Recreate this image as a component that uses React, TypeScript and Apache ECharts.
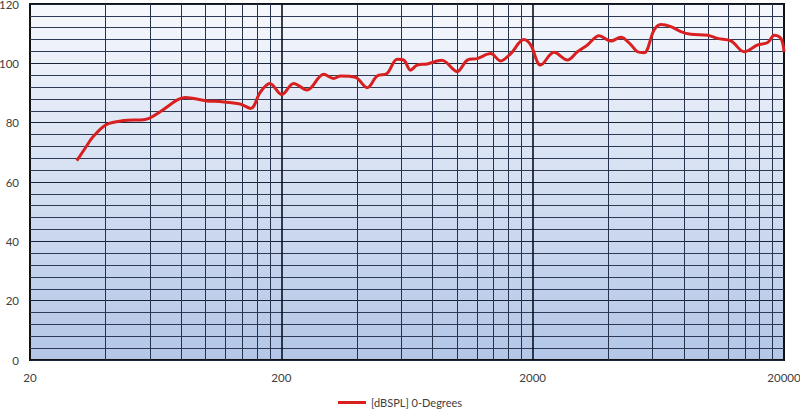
import React, { useEffect, useRef } from "react";
import * as echarts from "echarts";

// Frequency (Hz) and SPL (dB)
const freqs = [
  30.7, 33.1, 35.7, 40.4, 47.1, 57.4, 65.9, 76.8, 82.9, 101, 114, 137, 151, 165, 180,
  201, 224, 253, 295, 323, 344, 394, 439, 481, 527, 578, 614, 653, 694, 761, 870,
  1002, 1099, 1204, 1361, 1491, 1635, 1847, 1964, 2152, 2432, 2750, 3014, 3304,
  3674, 4090, 4484, 4915, 5226, 5550, 6084, 6471, 7093, 7774, 8521, 9932, 10888,
  12300, 13900, 15710, 17220, 18300, 19456, 20000,
];
const spl = [
  67.2, 71.3, 75.3, 79.4, 80.7, 81.1, 83.7, 87.6, 88.5, 87.3, 87.1, 86.3, 84.8, 90.3, 93.2,
  89.5, 93.2, 91.0, 96.3, 94.9, 95.7, 95.3, 91.8, 95.7, 96.6, 101.4, 101.1, 97.7, 99.4, 99.8, 101.0,
  97.2, 101.1, 101.6, 103.3, 100.8, 103.3, 108.0, 106.2, 99.4, 103.7, 101.1, 103.9, 106.2,
  109.3, 107.5, 108.8, 106.3, 103.9, 103.6, 111.2, 113.1, 112.4, 110.7, 109.8, 109.5, 108.4,
  107.6, 103.9, 106.2, 107.0, 109.5, 108.4, 103.9,
];
const seriesName = "[dBSPL] 0-Degrees";
const xTickLabels = [20, 200, 2000, 20000];
const decadeStarts = [20, 200, 2000];
const gridMultipliers = [2, 3, 4, 5, 6, 7, 8, 9];
const decadeLines = [200, 2000];

export default function App() {
  const ref = useRef<HTMLDivElement>(null);

  useEffect(() => {
    if (!ref.current) return;
    const chart = echarts.init(ref.current, undefined, { renderer: "svg" });

    const minorVals: number[] = [];
    decadeStarts.forEach((d) => {
      gridMultipliers.forEach((m) => minorVals.push(d * m));
    });

    const textStyle = { fontFamily: "Lato", fontSize: 11.5, color: "#404040" };

    chart.setOption({
      animation: false,
      backgroundColor: "#ffffff",
      grid: {
        left: 30,
        right: 16,
        top: 4,
        bottom: 51,
        containLabel: false,
        outerBoundsMode: "none",
        show: true,
        borderColor: "#111",
        borderWidth: 2,
        backgroundColor: new echarts.graphic.LinearGradient(0, 0, 0, 1, [
          { offset: 0, color: "#f6f8fc" },
          { offset: 1, color: "#b3c6e7" },
        ]),
      },
      legend: {
        data: [seriesName],
        top: 392,
        left: "center",
        icon: "rect",
        itemWidth: 28,
        itemHeight: 3,
        itemGap: 10,
        textStyle: { fontFamily: "Lato", fontSize: 11, color: "#404040" },
      },
      xAxis: {
        type: "log",
        logBase: 10,
        min: 20,
        max: 20000,
        axisLine: { show: false },
        axisTick: { show: false },
        splitLine: { show: false },
        axisLabel: {
          ...textStyle,
          margin: 11,
          customValues: xTickLabels,
          formatter: (v: number) => String(Math.round(v)),
        },
      },
      yAxis: {
        type: "value",
        min: 0,
        max: 120,
        interval: 20,
        axisLine: { show: false },
        axisTick: { show: false },
        axisLabel: { ...textStyle, margin: 11 },
        splitLine: { show: true, lineStyle: { color: "#1a2438", width: 1 } },
        minorTick: { show: false, splitNumber: 5 },
        minorSplitLine: { show: true, lineStyle: { color: "#2e3a55", width: 1 } },
      },
      series: [
        {
          name: "gridlines",
          type: "line",
          data: [],
          silent: true,
          z: 1,
          markLine: {
            silent: true,
            z: 1,
            symbol: ["none", "none"],
            label: { show: false },
            animation: false,
            data: [
              ...minorVals.map((v) => ({
                xAxis: v,
                lineStyle: { color: "#26324c", width: 1, type: "solid" },
              })),
              ...decadeLines.map((v) => ({
                xAxis: v,
                lineStyle: { color: "#0b1020", width: 1.6, type: "solid" },
              })),
            ],
          },
        },
        {
          name: seriesName,
          type: "line",
          z: 10,
          smooth: 0.35,
          showSymbol: false,
          symbol: "none",
          data: freqs.map((f, i) => [f, spl[i]]),
          lineStyle: { color: "#d92020", width: 3 },
          itemStyle: { color: "#d92020" },
        },
      ],
    });

    return () => chart.dispose();
  }, []);

  return (
    <div
      ref={ref}
      style={{ position: "fixed", left: 0, top: 0, width: 800, height: 411 }}
    />
  );
}
